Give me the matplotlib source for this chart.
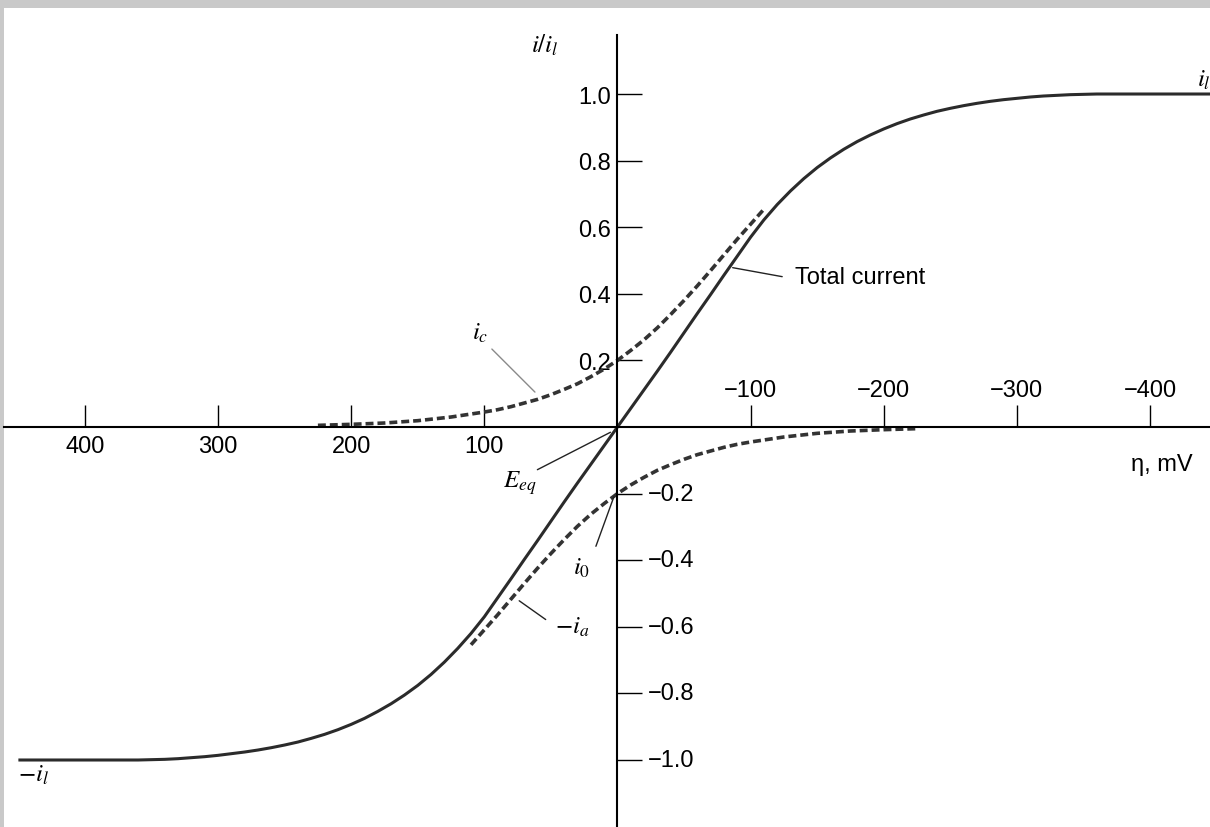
import matplotlib.pyplot as plt

plt.rcParams['mathtext.fontset'] = 'stix'
plt.rcParams['font.family'] = ['Liberation Sans', 'DejaVu Sans']

# overpotential (mV) and normalised current i/i_l
eta_total = [450, 400, 360, 350, 340, 330, 320, 310, 300, 290, 280, 270, 260,
             250, 240, 230, 220, 210, 200, 190, 180, 170, 160, 150, 140, 130,
             120, 110, 100, 90, 80, 70, 60, 50, 40, 30, 20, 10, 0,
             -10, -20, -30, -40, -50, -60, -70, -80, -90, -100, -110, -120,
             -130, -140, -150, -160, -170, -180, -190, -200, -210, -220, -230,
             -240, -250, -260, -270, -280, -290, -300, -310, -320, -330, -340,
             -350, -360, -400, -450]
i_total = [-1.0, -1.0, -1.0, -0.999, -0.998, -0.996, -0.993, -0.990, -0.986,
           -0.981, -0.976, -0.970, -0.963, -0.955, -0.946, -0.935, -0.923,
           -0.909, -0.893, -0.875, -0.854, -0.831, -0.805, -0.776, -0.743,
           -0.706, -0.665, -0.620, -0.570, -0.513, -0.456, -0.398, -0.341,
           -0.283, -0.225, -0.168, -0.112, -0.056, 0.0,
           0.056, 0.112, 0.168, 0.225, 0.283, 0.341, 0.398, 0.456, 0.513,
           0.570, 0.622, 0.668, 0.709, 0.746, 0.779, 0.808, 0.834, 0.857,
           0.877, 0.895, 0.911, 0.925, 0.937, 0.948, 0.957, 0.965, 0.972,
           0.978, 0.983, 0.987, 0.991, 0.994, 0.996, 0.998, 0.999, 1.0, 1.0,
           1.0]

# cathodic component i_c (upper dashed)
eta_c = [225, 200, 175, 150, 125, 100, 90, 80, 70, 60, 50, 40, 30, 20, 10, 0,
         -10, -20, -30, -40, -50, -60, -70, -80, -90, -100, -110]
i_c = [0.005, 0.008, 0.012, 0.019, 0.030, 0.045, 0.052, 0.061, 0.072, 0.083,
       0.097, 0.113, 0.130, 0.151, 0.174, 0.200, 0.230, 0.262, 0.298, 0.338,
       0.380, 0.424, 0.470, 0.517, 0.564, 0.609, 0.654]

# anodic component -i_a (lower dashed)
eta_a = [110, 100, 90, 80, 70, 60, 50, 40, 30, 20, 10, 0, -10, -20, -30, -40,
         -50, -60, -70, -80, -90, -100, -125, -150, -175, -200, -225]
i_a = [-0.654, -0.609, -0.564, -0.517, -0.470, -0.424, -0.380, -0.338, -0.298,
       -0.262, -0.230, -0.200, -0.174, -0.151, -0.130, -0.113, -0.097, -0.083,
       -0.072, -0.061, -0.052, -0.045, -0.030, -0.019, -0.012, -0.008, -0.005]

x_ticks = [400, 300, 200, 100, -100, -200, -300, -400]
y_ticks = [1.0, 0.8, 0.6, 0.4, 0.2, -0.2, -0.4, -0.6, -0.8, -1.0]

fig = plt.figure(figsize=(12.1, 8.28), dpi=100, facecolor='#c9c9c9')
ax = fig.add_axes([4 / 1210, 0, 1206 / 1210, 819 / 828])
ax.set_facecolor('white')
ax.set_xlim(460.8, -445.1)
ax.set_ylim(-1.2012, 1.2583)

ax.plot(eta_total, i_total, color='#2b2b2b', lw=2.2, solid_capstyle='butt',
        solid_joinstyle='round')
ax.plot(eta_c, i_c, color='#333333', lw=2.6, dashes=(2.2, 1.1), dash_capstyle='butt')
ax.plot(eta_a, i_a, color='#333333', lw=2.6, dashes=(2.2, 1.1), dash_capstyle='butt')

for side in ['top', 'right']:
    ax.spines[side].set_visible(False)
ax.spines['left'].set_position('zero')
ax.spines['bottom'].set_position('zero')
ax.spines['left'].set_bounds(-1.21, 1.177)
for side in ['left', 'bottom']:
    ax.spines[side].set_linewidth(1.5)

ax.set_xticks(x_ticks)
ax.set_xticklabels([f'{v}' if v > 0 else '' for v in x_ticks])
ax.set_yticks(y_ticks)
ax.set_yticklabels([f'{v:.1f}' if v > 0 else '' for v in y_ticks])
ax.tick_params(axis='x', direction='in', length=16, width=1.0, pad=6, labelsize=17)
ax.tick_params(axis='y', direction='in', length=18, width=1.0, pad=5, labelsize=17)

for v in x_ticks:
    if v < 0:
        ax.annotate(f'\u2212{-v}', xy=(v, 0), xytext=(0, 27), textcoords='offset points',
                    ha='center', va='center', fontsize=17)
for v in y_ticks:
    if v < 0:
        ax.annotate(f'\u2212{-v:.1f}', xy=(0, v), xytext=(22, 0), textcoords='offset points',
                    ha='left', va='center', fontsize=17)

# labels and leader lines
line = dict(arrowstyle='-', lw=1.0, color='#222222')
ax.text(54.5, 1.150, r'$i/i_l$', fontsize=18, ha='center', va='center')
ax.text(-435, 1.045, r'$i_l$', fontsize=18, ha='left', va='center')
ax.text(439, -1.042, r'$-i_l$', fontsize=18, ha='center', va='center')
ax.text(-409, -0.111, 'η, mV', fontsize=17, ha='center', va='center')

ax.text(103.3, 0.285, r'$i_c$', fontsize=18, ha='center', va='center')
ax.annotate('', xy=(60.5, 0.099), xytext=(95.8, 0.240),
            arrowprops=dict(arrowstyle='-', lw=1.0, color='#8a8a8a'))

ax.text(-133.3, 0.45, 'Total current', fontsize=17, ha='left', va='center')
ax.annotate('', xy=(-84.5, 0.48), xytext=(-125.8, 0.45), arrowprops=line)

ax.text(73.2, -0.165, r'$E_{eq}$', fontsize=18, ha='center', va='center')
ax.annotate('', xy=(3.4, -0.012), xytext=(62, -0.132), arrowprops=line)

ax.text(26.7, -0.42, r'$i_0$', fontsize=18, ha='center', va='center')
ax.annotate('', xy=(1.9, -0.201), xytext=(16.9, -0.366), arrowprops=line)

ax.text(34.2, -0.598, r'$-i_a$', fontsize=18, ha='center', va='center')
ax.annotate('', xy=(75.5, -0.517), xytext=(52.2, -0.583), arrowprops=line)

fig.savefig('out.png', dpi=100, facecolor=fig.get_facecolor())
